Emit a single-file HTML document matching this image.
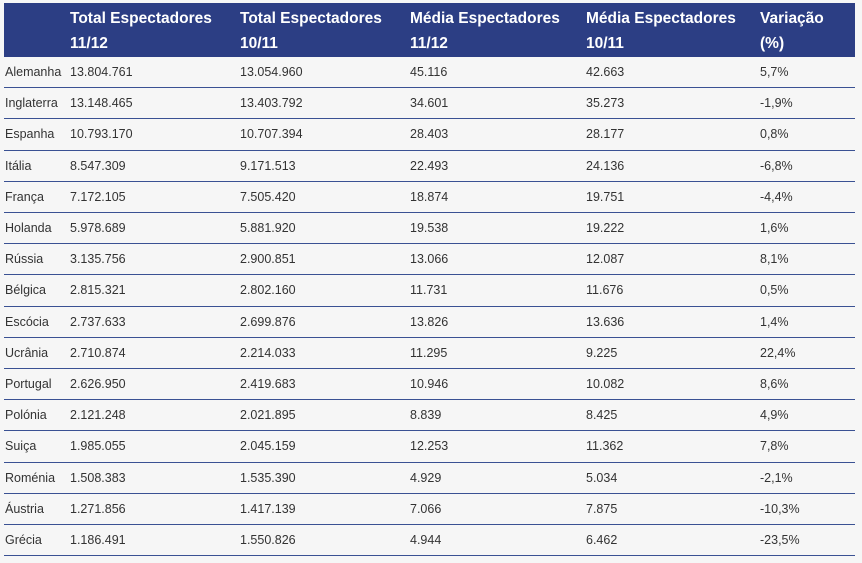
<!DOCTYPE html>
<html><head><meta charset="utf-8"><style>
body{margin:0;width:862px;height:563px;background:#f6f6f6;font-family:"Liberation Sans",sans-serif;position:relative;overflow:hidden}
.hd{position:absolute;left:4px;top:3px;width:851px;height:54px;background:#2c3e84}
.h{position:absolute;color:#fff;font-weight:bold;font-size:15.5px;line-height:25px;top:6px}
.r{position:absolute;left:4px;width:851px;height:31.2px;border-bottom:1px solid #3a5193;box-sizing:border-box;font-size:12.5px;color:#333}
.r span{position:absolute;top:8px}
</style></head><body>
<div class="hd"></div>
<div class="h" style="left:70px">Total Espectadores<br>11/12</div>
<div class="h" style="left:240px">Total Espectadores<br>10/11</div>
<div class="h" style="left:410px">Média Espectadores<br>11/12</div>
<div class="h" style="left:586px">Média Espectadores<br>10/11</div>
<div class="h" style="left:760px">Variação<br>(%)</div>
<div id="rows"></div>
<script>
const d=[["Alemanha","13.804.761","13.054.960","45.116","42.663","5,7%"],["Inglaterra","13.148.465","13.403.792","34.601","35.273","-1,9%"],["Espanha","10.793.170","10.707.394","28.403","28.177","0,8%"],["Itália","8.547.309","9.171.513","22.493","24.136","-6,8%"],["França","7.172.105","7.505.420","18.874","19.751","-4,4%"],["Holanda","5.978.689","5.881.920","19.538","19.222","1,6%"],["Rússia","3.135.756","2.900.851","13.066","12.087","8,1%"],["Bélgica","2.815.321","2.802.160","11.731","11.676","0,5%"],["Escócia","2.737.633","2.699.876","13.826","13.636","1,4%"],["Ucrânia","2.710.874","2.214.033","11.295","9.225","22,4%"],["Portugal","2.626.950","2.419.683","10.946","10.082","8,6%"],["Polónia","2.121.248","2.021.895","8.839","8.425","4,9%"],["Suiça","1.985.055","2.045.159","12.253","11.362","7,8%"],["Roménia","1.508.383","1.535.390","4.929","5.034","-2,1%"],["Áustria","1.271.856","1.417.139","7.066","7.875","-10,3%"],["Grécia","1.186.491","1.550.826","4.944","6.462","-23,5%"]];
const xs=[1,66,236,406,582,756];let h="";
d.forEach((r,i)=>{h+=`<div class="r" style="top:${57+i*31.2}px">`+r.map((c,j)=>`<span style="left:${xs[j]}px">${c}</span>`).join("")+"</div>";});
document.getElementById("rows").innerHTML=h;
</script>
</body></html>
